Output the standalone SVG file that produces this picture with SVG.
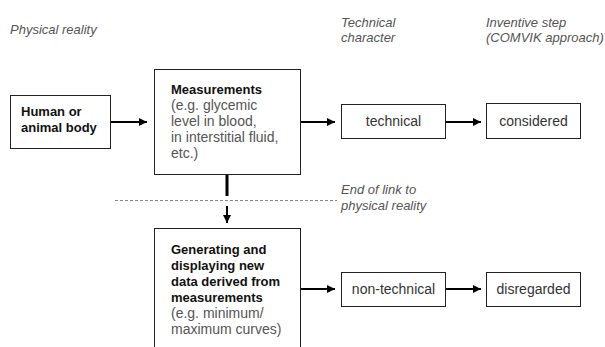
<svg xmlns="http://www.w3.org/2000/svg" width="605" height="347" viewBox="0 0 605 347">
<defs>
<marker id="ah" viewBox="0 0 10 10" refX="10" refY="5" markerWidth="4" markerHeight="4" markerUnits="strokeWidth" orient="auto">
<path d="M0,0 L10,5 L0,10 Z" fill="#000"/>
</marker>
<style>
text{font-family:"Liberation Sans",Arial,sans-serif;font-size:13px}
.b{font-weight:bold;fill:#111}
.g{fill:#555;font-size:14px}
.r{fill:#333;font-size:14px}
.i{font-style:italic;fill:#555}
.box{fill:#fff;stroke:#222;stroke-width:1}
.c{stroke:#000;stroke-width:2;fill:none}
</style>
</defs>
<rect width="605" height="347" fill="#fff"/>
<g id="labels">
<text class="i" x="10" y="34">Physical reality</text>
<text class="i" x="341" y="27">Technical</text>
<text class="i" x="341" y="42">character</text>
<text class="i" x="486" y="27">Inventive step</text>
<text class="i" x="486" y="42">(COMVIK approach)</text>
<text class="i" x="341" y="194">End of link to</text>
<text class="i" x="341" y="210">physical reality</text>
</g>
<g id="human">
<rect class="box" x="10.5" y="95.5" width="100" height="53"/>
<text class="b" x="21" y="116">Human or</text>
<text class="b" x="21" y="132">animal body</text>
</g>
<g id="measurements">
<rect class="box" x="154.5" y="69.5" width="146" height="105"/>
<text class="b" x="171" y="94">Measurements</text>
<text class="g" x="171" y="110">(e.g. glycemic</text>
<text class="g" x="171" y="126">level in blood,</text>
<text class="g" x="171" y="142">in interstitial fluid,</text>
<text class="g" x="171" y="158">etc.)</text>
</g>
<g id="technical">
<rect class="box" x="341.5" y="104.5" width="104" height="34"/>
<text class="r" x="393.5" y="126" text-anchor="middle">technical</text>
</g>
<g id="considered">
<rect class="box" x="486.5" y="103.5" width="94" height="35"/>
<text class="r" x="533.5" y="126" text-anchor="middle">considered</text>
</g>
<g id="generating">
<rect class="box" x="154.5" y="228.5" width="146" height="130"/>
<text class="b" x="171" y="254">Generating and</text>
<text class="b" x="171" y="270">displaying new</text>
<text class="b" x="171" y="286">data derived from</text>
<text class="b" x="171" y="302">measurements</text>
<text class="g" x="171" y="318">(e.g. minimum/</text>
<text class="g" x="171" y="334">maximum curves)</text>
</g>
<g id="nontechnical">
<rect class="box" x="341.5" y="272.5" width="104" height="34"/>
<text class="r" x="393.5" y="294" text-anchor="middle">non-technical</text>
</g>
<g id="disregarded">
<rect class="box" x="486.5" y="272.5" width="94" height="34"/>
<text class="r" x="533.5" y="294" text-anchor="middle">disregarded</text>
</g>
<g id="connectors">
<line class="c" x1="111" y1="122" x2="147" y2="122" marker-end="url(#ah)"/>
<line class="c" x1="301" y1="122" x2="335" y2="122" marker-end="url(#ah)"/>
<line class="c" x1="446" y1="122" x2="481" y2="122" marker-end="url(#ah)"/>
<line stroke="#000" stroke-width="3" x1="227" y1="175" x2="227" y2="196"/>
<line stroke="#888" stroke-width="1" stroke-dasharray="3,2" x1="115" y1="200.5" x2="337" y2="200.5"/>
<line class="c" x1="227" y1="206" x2="227" y2="223" marker-end="url(#ah)"/>
<line class="c" x1="301" y1="289" x2="335" y2="289" marker-end="url(#ah)"/>
<line class="c" x1="446" y1="289" x2="481" y2="289" marker-end="url(#ah)"/>
</g>
</svg>
